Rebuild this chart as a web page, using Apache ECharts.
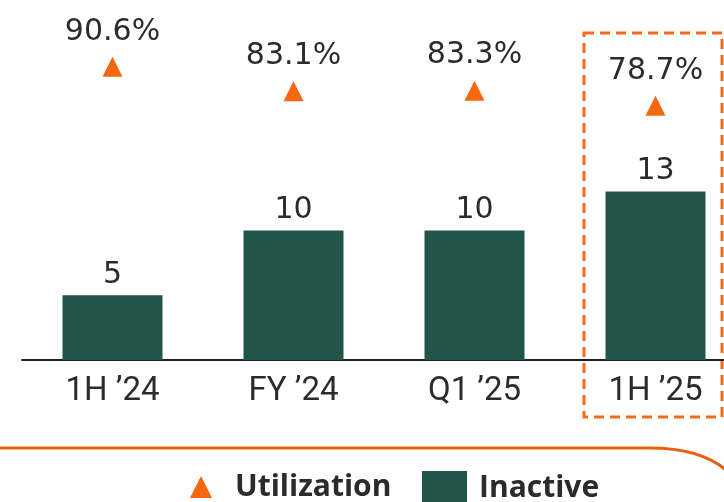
<!DOCTYPE html>
<html>
<head>
<meta charset="utf-8">
<script src="https://cdn.jsdelivr.net/npm/echarts@6/dist/echarts.min.js"></script>
<style>
  html, body { margin: 0; padding: 0; background: #fff; overflow: hidden; }
  /* the plot runs past the right edge, so the canvas is a bit wider than the window */
  #chart { width: 746px; height: 502px; }
</style>
</head>
<body>
<div id="chart"></div>
<script>
const categories = ['1H ’24', 'FY ’24', 'Q1 ’25', '1H ’25']
const inactive = [5, 10, 10, 13]
const utilization = [90.6, 83.1, 83.3, 78.7]

const green = '#21554C'
const orange = '#F5680F'
const textColor = '#2B2B2B'

const chart = echarts.init(document.getElementById('chart'))
chart.setOption({
  animation: false,
  grid: { left: 22, right: 0, top: 36, bottom: 142 },
  xAxis: {
    type: 'category',
    data: categories,
    axisLine: { lineStyle: { color: '#222', width: 2 } },
    axisTick: { show: false },
    axisLabel: {
      margin: 15,
      color: textColor,
      fontFamily: 'Roboto',
      fontSize: 33
    }
  },
  yAxis: [
    { type: 'value', min: 0, max: 25, show: false, splitLine: { show: false } },
    { type: 'value', min: 1, max: 100, show: false, splitLine: { show: false } }
  ],
  legend: [
    {
      data: [{ name: 'Utilization', icon: 'triangle' }],
      left: 190,
      top: 472,
      padding: 0,
      itemWidth: 22,
      itemHeight: 22,
      itemGap: 0,
      textStyle: {
        color: textColor,
        fontFamily: 'Open Sans',
        fontWeight: 'bold',
        fontSize: 30,
        padding: [0, 0, 0, 18]
      }
    },
    {
      data: [{ name: 'Inactive', icon: 'rect' }],
      left: 422,
      top: 471,
      padding: 0,
      itemWidth: 45,
      itemHeight: 34,
      textStyle: {
        color: textColor,
        fontFamily: 'Open Sans',
        fontWeight: 'bold',
        fontSize: 30,
        padding: [0, 0, 0, 7]
      }
    }
  ],
  graphic: [
    {
      type: 'rect',
      shape: { x: 584, y: 33, width: 138, height: 384 },
      style: { fill: null, stroke: '#F26B1D', lineWidth: 3, lineDash: [10, 6] },
      z: 0
    },
    {
      type: 'line',
      shape: { x1: 0, y1: 448, x2: 650, y2: 448 },
      style: { stroke: '#E8600F', lineWidth: 3 }
    },
    {
      type: 'bezierCurve',
      shape: { x1: 650, y1: 448, cpx1: 700, cpy1: 448, x2: 726, y2: 470 },
      style: { fill: null, stroke: '#E8600F', lineWidth: 3 }
    }
  ],
  series: [
    {
      name: 'Inactive',
      type: 'bar',
      data: inactive,
      barWidth: 100,
      itemStyle: { color: green },
      label: {
        show: true,
        position: 'top',
        distance: 5,
        color: textColor,
        fontFamily: 'DejaVu Sans',
        fontSize: 30
      }
    },
    {
      name: 'Utilization',
      type: 'scatter',
      yAxisIndex: 1,
      data: utilization,
      symbol: 'triangle',
      symbolSize: 20,
      itemStyle: { color: orange, opacity: 1 },
      label: {
        show: true,
        position: 'top',
        distance: 10,
        color: textColor,
        fontFamily: 'DejaVu Sans',
        fontSize: 30,
        formatter: p => p.value + '%'
      }
    }
  ]
})
</script>
</body>
</html>
